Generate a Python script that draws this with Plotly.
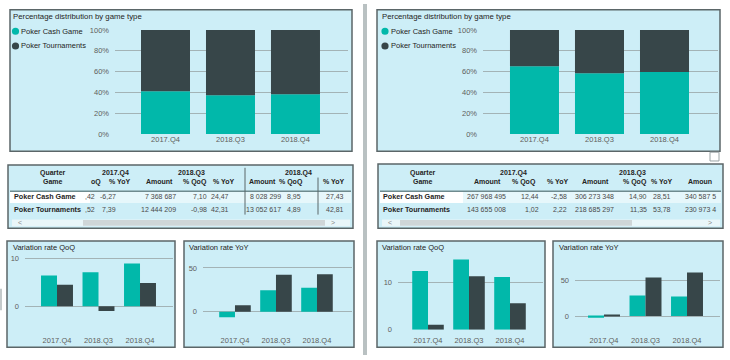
import plotly.graph_objects as go

W, H = 730, 360
TEAL = "#01B8AA"
DARK = "#374649"
PANEL = "#cdeef7"
BORDER = "#5b6668"
GRID = "#a3b3b6"
TXT = "#252423"
TICK = "#605e5c"
FONT = "Liberation Sans"

# ---------------- data ----------------
quarters = ["2017.Q4", "2018.Q3", "2018.Q4"]
series_names = ["Poker Cash Game", "Poker Tournaments"]

# left dashboard
share_cash_A = [41.2, 37.2, 38.1]
share_tour_A = [58.8, 62.8, 61.9]
qoq_cash_A = [6.42, 7.10, 8.95]
qoq_tour_A = [4.52, -0.98, 4.89]
yoy_cash_A = [-6.27, 24.47, 27.43]
yoy_tour_A = [7.39, 42.31, 42.81]
amount_cash_A = [None, 7368687, 8028299]
amount_tour_A = [None, 12444209, 13052617]

# right dashboard
share_cash_B = [65.1, 58.3, 59.6]
share_tour_B = [34.9, 41.7, 40.4]
qoq_cash_B = [12.44, 14.90, 11.2]
qoq_tour_B = [1.02, 11.35, 5.6]
yoy_cash_B = [-2.58, 28.51, 27.1]
yoy_tour_B = [2.22, 53.78, 60.8]
amount_cash_B = [267968495, 306273348, 340587500]
amount_tour_B = [143655008, 218685297, 230973400]

pct_ticks = [0, 20, 40, 60, 80, 100]


# ---------------- helpers ----------------
def px(x):
    return x / W


def py(y):
    return 1 - y / H


def fmt_amount(v):
    return f"{v:,.0f}".replace(",", " ")


def fmt_pct(v):
    return f"{v:.2f}".replace(".", ",")


fig = go.Figure()
shapes = []
annotations = []


def rect(x0, y0, x1, y1, fill=None, line=None, lw=1.0):
    shapes.append(dict(type="rect", xref="paper", yref="paper",
                       x0=px(x0), x1=px(x1), y0=py(y1), y1=py(y0),
                       fillcolor=fill if fill else "rgba(0,0,0,0)",
                       line=dict(color=line if line else "rgba(0,0,0,0)", width=lw if line else 0),
                       layer="below"))


def vline(x, y0, y1, color=BORDER, lw=1.0):
    shapes.append(dict(type="line", xref="paper", yref="paper",
                       x0=px(x), x1=px(x), y0=py(y0), y1=py(y1),
                       line=dict(color=color, width=lw), layer="below"))


def hline(x0, x1, y, color=BORDER, lw=1.0):
    shapes.append(dict(type="line", xref="paper", yref="paper",
                       x0=px(x0), x1=px(x1), y0=py(y), y1=py(y),
                       line=dict(color=color, width=lw), layer="below"))


def text(x, y, s, size=8, color=TXT, anchor="left", bold=False):
    if bold:
        s = f"<b>{s}</b>"
    annotations.append(dict(x=px(x), y=py(y), xref="paper", yref="paper", text=s,
                            showarrow=False, xanchor=anchor, yanchor="middle",
                            xshift=0, yshift=0, borderpad=0,
                            font=dict(family=FONT, size=size, color=color)))


def circle(cx, cy, r, color):
    shapes.append(dict(type="circle", xref="paper", yref="paper",
                       x0=px(cx - r), x1=px(cx + r), y0=py(cy + r), y1=py(cy - r),
                       fillcolor=color, line=dict(width=0), layer="above"))


# ---------------- panels ----------------
rect(363, 0, 367, 360, fill="#b9c1c2")
rect(0, 292, 2, 314, fill="#c4cacb")
rect(10, 6, 352, 151, PANEL, BORDER, 1.5)
rect(377, 6, 720, 151, PANEL, BORDER, 1.5)
rect(8, 165, 353, 230, PANEL, BORDER, 1.5)
rect(378, 164, 723, 230, PANEL, BORDER, 1.5)
rect(7, 243, 175, 352, PANEL, BORDER, 1.5)
rect(184, 243, 354, 352, PANEL, BORDER, 1.5)
rect(377, 243, 545, 352, PANEL, BORDER, 1.5)
rect(553, 243, 723, 352, PANEL, BORDER, 1.5)

# ---------------- axes ----------------
axes = {}


def add_axes(i, xd, yd, xr, yr, ytickvals, yticktext, xstand=0):
    k = "" if i == 1 else str(i)
    axes[f"xaxis{k}"] = dict(domain=[px(xd[0]), px(xd[1])], range=xr, anchor=f"y{k}",
                             showgrid=False, zeroline=False, showline=False, ticks="",
                             tickfont=dict(family=FONT, size=7.5, color=TICK),
                             ticklabelstandoff=xstand,
                             type="category", fixedrange=True)
    axes[f"yaxis{k}"] = dict(domain=[py(yd[1]), py(yd[0])], range=yr, anchor=f"x{k}",
                             showgrid=True, gridcolor=GRID, gridwidth=1, zeroline=False,
                             showline=False, ticks="", tickvals=ytickvals, ticktext=yticktext,
                             tickfont=dict(family=FONT, size=7.5, color=TICK),
                             ticklabelstandoff=5, fixedrange=True)


pct_text = [f"{v}%" for v in pct_ticks]
add_axes(1, (115, 348), (26.7, 133.3), [-0.777, 2.808], [0, 100], pct_ticks, pct_text)
add_axes(2, (483, 718), (26.7, 133.3), [-0.792, 2.823], [0, 100], pct_ticks, pct_text)
add_axes(3, (25, 173), (258, 334), [-0.771, 2.795], [-4.90, 10.61], [0, 10], ["0", "10"], 5)
add_axes(4, (203, 352), (258, 334), [-0.78, 2.854], [-20.3, 64.1], [0, 50], ["0", "50"], 5)
add_axes(5, (398, 543), (258, 334), [-0.732, 2.805], [0, 15.73], [0, 10], ["0", "10"], 5)
add_axes(6, (575, 720), (258, 334), [-0.699, 2.795], [-19.07, 84.5], [0, 50], ["0", "50"], 5)


def stacked(i, cash, tour):
    k = "" if i == 1 else str(i)
    fig.add_trace(go.Bar(x=quarters, y=cash, xaxis=f"x{k}", yaxis=f"y{k}",
                         marker=dict(color=TEAL, line=dict(width=0)),
                         width=0.754, offset=-0.377, showlegend=False, hoverinfo="skip"))
    fig.add_trace(go.Bar(x=quarters, y=tour, base=cash, xaxis=f"x{k}", yaxis=f"y{k}",
                         marker=dict(color=DARK, line=dict(width=0)),
                         width=0.754, offset=-0.377, showlegend=False, hoverinfo="skip"))


def grouped(i, cash, tour):
    k = str(i)
    fig.add_trace(go.Bar(x=quarters, y=cash, xaxis=f"x{k}", yaxis=f"y{k}",
                         marker=dict(color=TEAL, line=dict(width=0)),
                         width=0.385, offset=-0.385, showlegend=False, hoverinfo="skip"))
    fig.add_trace(go.Bar(x=quarters, y=tour, xaxis=f"x{k}", yaxis=f"y{k}",
                         marker=dict(color=DARK, line=dict(width=0)),
                         width=0.385, offset=0.0, showlegend=False, hoverinfo="skip"))


stacked(1, share_cash_A, share_tour_A)
stacked(2, share_cash_B, share_tour_B)
grouped(3, qoq_cash_A, qoq_tour_A)
grouped(4, yoy_cash_A, yoy_tour_A)
grouped(5, qoq_cash_B, qoq_tour_B)
grouped(6, yoy_cash_B, yoy_tour_B)

# ---------------- titles & legends ----------------
for x0 in (12, 381):
    text(x0, 13, "Percentage distribution by game type", size=7.8)
for cx in (15.5, 385):
    circle(cx, 28, 3.6, TEAL)
    circle(cx, 43, 3.6, DARK)
    text(cx + 4.5, 28, series_names[0], size=7.5)
    text(cx + 4.5, 43, series_names[1], size=7.5)

text(12, 250, "Variation rate QoQ", size=7.5)
text(188, 250, "Variation rate YoY", size=7.5)
text(381, 250, "Variation rate QoQ", size=7.5)
text(558, 250, "Variation rate YoY", size=7.5)

# ---------------- tables ----------------
HDR = 7.0
VAL = 7
NAME = 7.2
VALC = "#4a4a4a"

# left table
rect(10, 192, 351, 204, fill="#e6f7fb")
rect(10, 192, 90, 204, fill="#ffffff")
hline(10, 351, 192, color="#6f8a8e", lw=1.5)
vline(245, 168, 216)
vline(318, 178, 216)
text(53, 173, "Quarter", size=HDR, anchor="center", bold=True)
text(53, 182, "Game", size=HDR, anchor="center", bold=True)
for cx, q in zip([115, 192, 298], quarters):
    text(cx, 173, q, size=HDR, anchor="center", bold=True)
left_hdr = ["oQ", "% YoY", "Amount", "% QoQ", "% YoY", "Amount", "% QoQ", "% YoY"]
left_hdr_r = [102, 131, 174, 208, 235, 277, 304, 345]
for s, xr in zip(left_hdr, left_hdr_r):
    text(xr, 182.5, s, size=HDR, anchor="right", bold=True)
left_val_r = [96, 117, 177, 208, 230, 282, 302, 345]
rowsA = [
    (qoq_cash_A, yoy_cash_A, amount_cash_A),
    (qoq_tour_A, yoy_tour_A, amount_tour_A),
]
for (qoq, yoy, amt), yrow, name in zip(rowsA, [197.5, 211], series_names):
    text(13, yrow, name, size=NAME, bold=True)
    vals = [fmt_pct(qoq[0])[-3:], fmt_pct(yoy[0]),
            fmt_amount(amt[1]), fmt_pct(qoq[1]), fmt_pct(yoy[1]),
            fmt_amount(amt[2]), fmt_pct(qoq[2]), fmt_pct(yoy[2])]
    for s, xr in zip(vals, left_val_r):
        text(xr, yrow, s, size=VAL, anchor="right", color=VALC)
rect(12, 221, 350, 228, fill="#e9f6f9")
rect(83, 221.5, 325, 227.5, fill="#cfd6d8")
text(20, 224.5, "<", size=7, color="#888888", anchor="center")
text(333, 224.5, ">", size=7, color="#888888", anchor="center")

# right table
rect(380, 192, 721, 204, fill="#e6f7fb")
rect(380, 192, 463, 204, fill="#ffffff")
hline(380, 721, 192, color="#6f8a8e", lw=1.5)
text(423, 173, "Quarter", size=HDR, anchor="center", bold=True)
text(423, 182, "Game", size=HDR, anchor="center", bold=True)
for cx, q in zip([513, 632], quarters[:2]):
    text(cx, 173, q, size=HDR, anchor="center", bold=True)
right_hdr = ["Amount", "% QoQ", "% YoY", "Amount", "% QoQ", "% YoY"]
right_hdr_r = [502, 537, 569, 610, 648, 673]
for s, xr in zip(right_hdr, right_hdr_r):
    text(xr, 182.5, s, size=HDR, anchor="right", bold=True)
text(687, 182.5, "Amoun", size=HDR, anchor="left", bold=True)
right_val_r = [507, 540, 568, 615, 648, 672]
rowsB = [
    (qoq_cash_B, yoy_cash_B, amount_cash_B),
    (qoq_tour_B, yoy_tour_B, amount_tour_B),
]
for (qoq, yoy, amt), yrow, name in zip(rowsB, [197.5, 211], series_names):
    text(382, yrow, name, size=NAME, bold=True)
    vals = [fmt_amount(amt[0]), fmt_pct(qoq[0]), fmt_pct(yoy[0]),
            fmt_amount(amt[1]), fmt_pct(qoq[1]), fmt_pct(yoy[1])]
    for s, xr in zip(vals, right_val_r):
        text(xr, yrow, s, size=VAL, anchor="right", color=VALC)
    text(684, yrow, fmt_amount(amt[2])[:9], size=VAL, anchor="left", color=VALC)
rect(382, 221, 720, 228, fill="#e9f6f9")
rect(400, 221.5, 632, 227.5, fill="#cfd6d8")
text(390, 224.5, "<", size=7, color="#888888", anchor="center")
text(710, 224.5, ">", size=7, color="#888888", anchor="center")

# expand icon
rect(710, 152, 719, 161, line="#9aa3a5", lw=1)

fig.update_layout(
    width=W, height=H, autosize=False,
    margin=dict(l=0, r=0, t=0, b=0),
    paper_bgcolor="white", plot_bgcolor="rgba(0,0,0,0)",
    barmode="overlay", showlegend=False,
    shapes=shapes, annotations=annotations,
    font=dict(family=FONT, size=8, color=TXT),
    **axes,
)

fig.write_html("out.html", config={"displayModeBar": False},
               post_script="document.body.style.margin='0';document.body.style.overflow='hidden';")
